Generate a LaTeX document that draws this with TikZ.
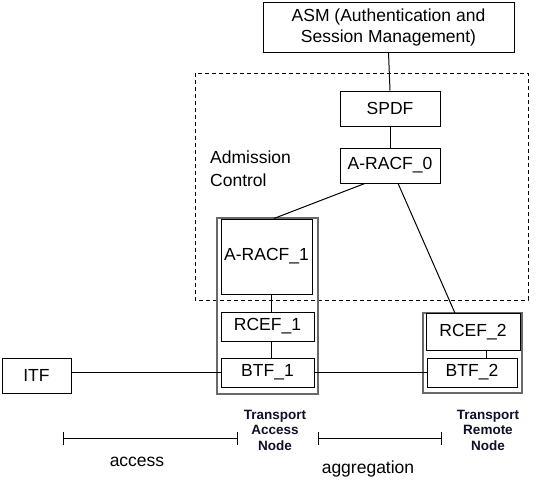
\documentclass[tikz,border=0pt]{standalone}
\usepackage{fontspec}
\setmainfont{Liberation Sans}
\usepackage{tikz}
\usetikzlibrary{calc,arrows.meta}
\definecolor{tnavy}{RGB}{15,15,40}
\definecolor{tgray}{RGB}{105,105,105}
\tikzset{>=stealth,
  blk/.style={draw,line width=1pt,inner sep=0pt,align=center,font=\fontsize{17.5}{21}\selectfont},
  tnode/.style={draw=tgray,line width=1.6pt,inner sep=0pt},
  lbl/.style={inner sep=0pt,align=left,font=\fontsize{17.5}{23}\selectfont},
  tlbl/.style={inner sep=0pt,align=center,text=tnavy,font=\fontsize{13.5}{15.5}\selectfont\bfseries},
  spanline/.style={line width=1pt,{Bar[width=13pt]}-{Bar[width=13pt]}}
}
\begin{document}
\begin{tikzpicture}[x=1pt,y=-1pt]
  \useasboundingbox (0,0) rectangle (538,485);
  % admission control area
  \draw[line width=1pt,dash pattern=on 4pt off 3pt] (195,73) rectangle (528,300);
  \node[lbl,anchor=west] (adm) at (210,169) {Admission\\Control};
  % transport nodes
  \node[tnode,minimum width=101pt,minimum height=176pt] (tan) at (267.5,306) {};
  \node[tnode,minimum width=99pt,minimum height=80pt] (trn) at (472.5,353) {};
  \node[blk,minimum width=251pt,minimum height=50pt] (asm) at (388.5,27) {ASM (Authentication and\\Session Management)};
  \node[blk,minimum width=100pt,minimum height=35pt] (spdf) at (390,108.5) {SPDF};
  \node[blk,minimum width=100pt,minimum height=35pt] (racf0) at (390,165.5) {A-RACF\_0};
  \node[blk,minimum width=91pt,minimum height=75pt] (racf1) at (266.5,256.5) {A-RACF\_1};
  \node[blk,minimum width=93pt,minimum height=29pt] (rcef1) at (267.5,326.5) {RCEF\_1};
  \node[blk,minimum width=93pt,minimum height=29pt] (btf1) at (267.5,372.5) {BTF\_1};
  \node[blk,minimum width=94pt,minimum height=37pt] (rcef2) at (473,332) {RCEF\_2};
  \node[blk,minimum width=90pt,minimum height=29pt] (btf2) at (472,372.5) {BTF\_2};
  \node[blk,minimum width=69pt,minimum height=35pt] (itf) at (36.5,375.5) {ITF};
  % connections
  \draw[line width=1pt] (asm.south) -- (spdf.north);
  \draw[line width=1pt] (spdf) -- (racf0);
  \draw[line width=1pt] ($(racf0.south west)!.25!(racf0.south east)$) -- ($(racf1.north west)!.58!(racf1.north east)$);
  \draw[line width=1pt] ($(racf0.south west)!.58!(racf0.south east)$) -- ($(rcef2.north west)!.31!(rcef2.north east)$);
  \draw[line width=1pt] ([xshift=5pt]racf1.south) -- ([xshift=4pt]rcef1.north);
  \draw[line width=1pt] ([xshift=4pt]rcef1.south) -- ([xshift=4pt]btf1.north);
  \draw[line width=1pt] ([xshift=13pt]rcef2.south) -- ([xshift=14pt]btf2.north);
  \draw[line width=1pt] (itf.east |- btf1.west) -- (btf1.west);
  \draw[line width=1pt] (btf1.east) -- (btf2.west);
  % spans
  \coordinate (acc1) at (63,438);
  \coordinate (acc2) at (238,438);
  \coordinate (agg1) at (318,438);
  \coordinate (agg2) at (442,438);
  \draw[spanline] (acc1) -- (acc2);
  \draw[spanline] (agg1) -- (agg2);
  \node[lbl] (access) at (137,462) {access};
  \node[lbl] (aggr) at (368,469) {aggregation};
  \node[tlbl] (tanl) at (275,430) {Transport\\Access\\Node};
  \node[tlbl] (trnl) at (488,430) {Transport\\Remote\\Node};
\end{tikzpicture}
\end{document}
